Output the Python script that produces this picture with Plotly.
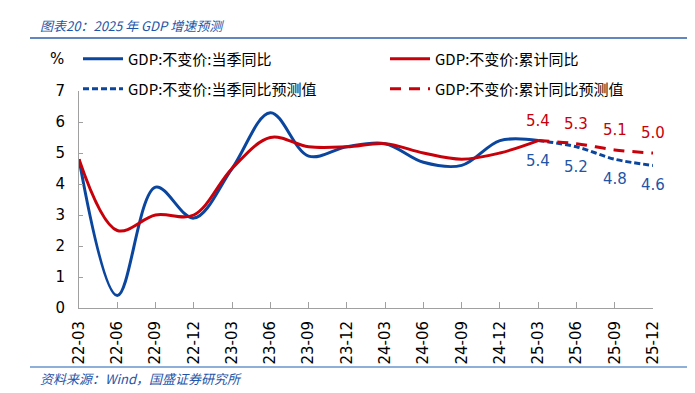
import plotly.graph_objects as go

categories = ["22-03","22-06","22-09","22-12","23-03","23-06","23-09","23-12",
              "24-03","24-06","24-09","24-12","25-03","25-06","25-09","25-12"]
quarterly_actual = [4.8, 0.4, 3.9, 2.9, 4.5, 6.3, 4.9, 5.2, 5.3, 4.7, 4.6, 5.4, 5.4]
cumulative_actual = [4.8, 2.5, 3.0, 3.0, 4.5, 5.5, 5.2, 5.2, 5.3, 5.0, 4.8, 5.0, 5.4]
forecast_cats = ["25-03","25-06","25-09","25-12"]
quarterly_forecast = [5.4, 5.2, 4.8, 4.6]
cumulative_forecast = [5.4, 5.3, 5.1, 5.0]

BLUE = "#0B469E"
RED = "#C8000A"
TXT_BLUE = "#1F55A8"
FONT = "DejaVu Sans, Noto Sans CJK SC, sans-serif"
CJK = "Noto Sans CJK SC, DejaVu Sans, sans-serif"

OFF = 8  # browser default body margin
W, H = 695 - OFF, 393 - OFF
# desired plot area in screen pixels
SX0, SX1, SY0, SY1 = 79, 653, 91, 308
L, T = SX0 - OFF, SY0 - OFF
R, B = W - (SX1 - OFF), H - (SY1 - OFF)
pw, ph = W - L - R, H - T - B

def px2x(px):
    return (px - OFF - L) / pw

def py2y(py):
    return (H - B - (py - OFF)) / ph

fig = go.Figure()
fig.add_trace(go.Scatter(x=categories[:len(quarterly_actual)], y=quarterly_actual,
                         mode="lines", name="GDP:不变价:当季同比",
                         line=dict(color=BLUE, width=3, shape="spline", smoothing=1.0),
                         legend="legend"))
fig.add_trace(go.Scatter(x=categories[:len(cumulative_actual)], y=cumulative_actual,
                         mode="lines", name="GDP:不变价:累计同比",
                         line=dict(color=RED, width=3, shape="spline", smoothing=1.0),
                         legend="legend2"))
fig.add_trace(go.Scatter(x=forecast_cats, y=quarterly_forecast,
                         mode="lines", name="GDP:不变价:当季同比预测值",
                         line=dict(color=BLUE, width=3, dash="6px,3px", shape="spline", smoothing=1.0),
                         legend="legend3"))
fig.add_trace(go.Scatter(x=forecast_cats, y=cumulative_forecast,
                         mode="lines", name="GDP:不变价:累计同比预测值",
                         line=dict(color=RED, width=3, dash="11px,8px", shape="spline", smoothing=1.0),
                         legend="legend4"))

annotations = []
for c, v in zip(forecast_cats, cumulative_forecast):
    annotations.append(dict(x=c, y=v, xref="x", yref="y", text=f"{v:.1f}", showarrow=False,
                            yshift=20, font=dict(family=FONT, size=15, color=RED)))
for c, v in zip(forecast_cats, quarterly_forecast):
    annotations.append(dict(x=c, y=v, xref="x", yref="y", text=f"{v:.1f}", showarrow=False,
                            yshift=-20, font=dict(family=FONT, size=15, color=TXT_BLUE)))

annotations.append(dict(x=px2x(57), y=py2y(59), xref="paper", yref="paper", text="%",
                        xanchor="center", yanchor="middle",
                        showarrow=False, font=dict(family=FONT, size=15, color="#000")))
annotations.append(dict(x=px2x(38), y=py2y(25), xref="paper", yref="paper",
                        text="图表20：2025 年 GDP 增速预测", xanchor="left", yanchor="middle",
                        showarrow=False,
                        font=dict(family=CJK, size=13, color=TXT_BLUE, style="italic")))
annotations.append(dict(x=px2x(38), y=py2y(378), xref="paper", yref="paper",
                        text="资料来源：Wind，国盛证券研究所", xanchor="left", yanchor="middle",
                        showarrow=False,
                        font=dict(family=CJK, size=13, color=TXT_BLUE, style="italic")))

shapes = [
    dict(type="line", xref="paper", yref="paper", x0=px2x(30), x1=px2x(690),
         y0=py2y(38), y1=py2y(38), line=dict(color="#2E5FA8", width=1.5)),
    dict(type="line", xref="paper", yref="paper", x0=px2x(30), x1=px2x(690),
         y0=py2y(367), y1=py2y(367), line=dict(color="#6A95CF", width=1.5)),
]

def leg(xpx, ypx):
    return dict(orientation="h", x=px2x(xpx), xanchor="left", y=py2y(ypx), yanchor="middle",
                itemwidth=40, font=dict(family=CJK, size=15, color="#000"),
                bgcolor="rgba(0,0,0,0)", borderwidth=0)

fig.update_layout(
    width=W, height=H,
    margin=dict(l=L, r=R, t=T, b=B, autoexpand=False),
    paper_bgcolor="white", plot_bgcolor="white",
    font=dict(family=FONT, size=15, color="#000"),
    showlegend=True,
    legend=leg(78, 59),
    legend2=leg(385, 59),
    legend3=leg(78, 89),
    legend4=leg(385, 89),
    xaxis=dict(type="category", categoryorder="array", categoryarray=categories,
               range=[0, len(categories) - 1], tickangle=-90,
               ticks="inside", ticklen=6, tickcolor="#A0A0A0", ticklabelstandoff=6,
               showline=True, linecolor="#A0A0A0", linewidth=1,
               showgrid=False, zeroline=False,
               tickfont=dict(family=FONT, size=15, color="#000")),
    yaxis=dict(range=[0, 7], dtick=1, ticks="inside", ticklen=4, tickcolor="#A0A0A0",
               ticklabelstandoff=10,
               showline=True, linecolor="#A0A0A0", linewidth=1,
               showgrid=False, zeroline=False,
               tickfont=dict(family=FONT, size=15, color="#000")),
    annotations=annotations,
    shapes=shapes,
)

fig.write_html("out.html")
